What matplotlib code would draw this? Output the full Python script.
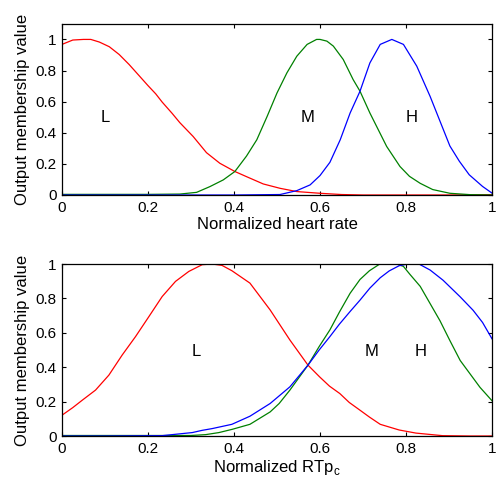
import matplotlib
matplotlib.use('Agg')
import matplotlib.pyplot as plt

# top panel: normalized heart rate
hr_L_x = [0, 0.025, 0.05, 0.067, 0.087, 0.11, 0.133, 0.156, 0.179, 0.2, 0.218, 0.233, 0.256, 0.274,
          0.305, 0.336, 0.367, 0.402, 0.429, 0.468, 0.507, 0.546, 0.6, 0.65, 0.7, 0.8, 0.9, 1.0]
hr_L_y = [0.968, 0.996, 1.0, 1.0, 0.983, 0.953, 0.903, 0.839, 0.768, 0.703, 0.65, 0.597, 0.525, 0.465,
          0.376, 0.272, 0.204, 0.151, 0.118, 0.071, 0.043, 0.022, 0.011, 0.003, 0.0, 0.0, 0.0, 0.002]
hr_M_x = [0, 0.1, 0.2, 0.274, 0.313, 0.344, 0.375, 0.402, 0.429, 0.453, 0.477, 0.5, 0.523, 0.546,
          0.57, 0.592, 0.6, 0.616, 0.631, 0.654, 0.677, 0.693, 0.716, 0.755, 0.786, 0.808, 0.833,
          0.862, 0.902, 0.95, 1.0]
hr_M_y = [0.004, 0.004, 0.004, 0.006, 0.017, 0.054, 0.097, 0.151, 0.25, 0.355, 0.505, 0.656, 0.785,
          0.892, 0.968, 1.0, 1.0, 0.989, 0.957, 0.871, 0.742, 0.667, 0.527, 0.312, 0.183, 0.12, 0.075,
          0.035, 0.011, 0.002, 0.0]
hr_H_x = [0, 0.2, 0.4, 0.507, 0.546, 0.577, 0.6, 0.623, 0.647, 0.67, 0.693, 0.716, 0.74, 0.767,
          0.794, 0.825, 0.856, 0.887, 0.902, 0.924, 0.947, 0.978, 1.0]
hr_H_y = [0.0, 0.0, 0.0, 0.003, 0.028, 0.065, 0.125, 0.21, 0.355, 0.527, 0.667, 0.849, 0.968, 1.0,
          0.968, 0.828, 0.634, 0.419, 0.315, 0.217, 0.13, 0.055, 0.012]

# bottom panel: normalized RTp_c
rt_L_x = [0, 0.025, 0.047, 0.078, 0.109, 0.14, 0.171, 0.202, 0.233, 0.264, 0.295, 0.326, 0.349,
          0.372, 0.395, 0.437, 0.484, 0.53, 0.572, 0.599, 0.622, 0.646, 0.668, 0.693, 0.715, 0.74,
          0.784, 0.823, 0.885, 0.95, 1.0]
rt_L_y = [0.121, 0.165, 0.208, 0.267, 0.354, 0.471, 0.578, 0.694, 0.811, 0.899, 0.957, 0.996, 1.0,
          0.992, 0.961, 0.889, 0.733, 0.558, 0.412, 0.344, 0.29, 0.247, 0.195, 0.15, 0.11, 0.068,
          0.035, 0.017, 0.002, 0.0, 0.0]
rt_M_x = [0, 0.1, 0.2, 0.3, 0.334, 0.365, 0.396, 0.437, 0.484, 0.505, 0.53, 0.572, 0.598, 0.623,
          0.645, 0.67, 0.693, 0.715, 0.739, 0.778, 0.794, 0.809, 0.833, 0.856, 0.879, 0.902, 0.926,
          0.949, 0.972, 1.0]
rt_M_y = [0.003, 0.003, 0.003, 0.003, 0.008, 0.02, 0.039, 0.068, 0.14, 0.189, 0.267, 0.412, 0.52,
          0.617, 0.72, 0.83, 0.91, 0.961, 1.0, 1.0, 0.986, 0.94, 0.87, 0.77, 0.67, 0.555, 0.439,
          0.361, 0.283, 0.205]
rt_H_x = [0, 0.1, 0.233, 0.256, 0.303, 0.326, 0.349, 0.395, 0.437, 0.484, 0.53, 0.572, 0.598, 0.623,
          0.645, 0.67, 0.693, 0.716, 0.74, 0.761, 0.784, 0.805, 0.83, 0.856, 0.886, 0.926, 0.956,
          0.978, 1.0]
rt_H_y = [0.0, 0.0, 0.002, 0.008, 0.02, 0.033, 0.043, 0.068, 0.115, 0.189, 0.286, 0.412, 0.5, 0.578,
          0.65, 0.724, 0.79, 0.86, 0.92, 0.96, 0.99, 1.0, 1.0, 0.965, 0.906, 0.809, 0.731, 0.66, 0.565]

plt.rcParams['font.family'] = ['Liberation Sans', 'DejaVu Sans']
GREEN = '#008000'

fig = plt.figure(figsize=(4.98, 4.87), dpi=100)
ax1 = fig.add_axes([0.1245, 0.5996, 0.8635, 0.3514])
ax2 = fig.add_axes([0.1245, 0.1047, 0.8635, 0.3532])

panels = [
    (ax1, (hr_L_x, hr_L_y), (hr_M_x, hr_M_y), (hr_H_x, hr_H_y), 1.1, 'Normalized heart rate',
     [(0.1, 0.5, 'L'), (0.57, 0.5, 'M'), (0.814, 0.5, 'H')]),
    (ax2, (rt_L_x, rt_L_y), (rt_M_x, rt_M_y), (rt_H_x, rt_H_y), 1.0, r'Normalized RTp$_\mathregular{c}$',
     [(0.312, 0.49, 'L'), (0.72, 0.49, 'M'), (0.835, 0.49, 'H')]),
]

for ax, L, M, H, ytop, xlab, labels in panels:
    ax.plot(*L, color='red', lw=0.9)
    ax.plot(*M, color=GREEN, lw=0.9)
    ax.plot(*H, color='blue', lw=0.9)
    ax.set_xlim(0, 1)
    ax.set_ylim(0, ytop)
    ax.set_xticks([0, 0.2, 0.4, 0.6, 0.8, 1])
    ax.set_xticklabels(['0', '0.2', '0.4', '0.6', '0.8', '1'])
    ax.set_yticks([0, 0.2, 0.4, 0.6, 0.8, 1])
    ax.set_yticklabels(['0', '0.2', '0.4', '0.6', '0.8', '1'])
    ax.tick_params(direction='in', top=True, right=True, labelsize=11, length=3, width=0.8, pad=4)
    for s in ax.spines.values():
        s.set_linewidth(0.9)
    ax.set_xlabel(xlab, fontsize=12, labelpad=2)
    ax.set_ylabel('Output membership value', fontsize=12, labelpad=4)
    for x, y, t in labels:
        ax.text(x, y, t, fontsize=12, ha='center', va='center')

fig.savefig('out.png', dpi=100)
